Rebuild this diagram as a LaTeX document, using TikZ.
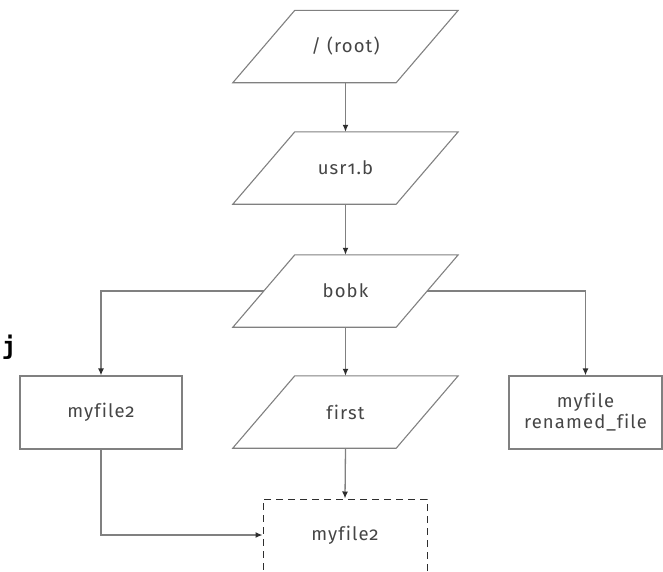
\documentclass[tikz,border=0pt]{standalone}
\usepackage{fontspec}
\setmainfont{Fira Sans}[Numbers=OldStyle, Ligatures=NoCommon]
\newfontfamily\markfont{DejaVu Sans Mono}
\usetikzlibrary{arrows.meta}
\definecolor{linegray}{HTML}{808080}
\definecolor{tipgray}{HTML}{2E2E2E}
\definecolor{textgray}{HTML}{454545}
\tikzset{
  x=1pt, y=-1pt,
  every node/.style={font=\fontsize{18.5}{21}\selectfont\addfontfeature{LetterSpace=6}, text=textgray, align=center},
  % invisible rectangle that carries the anchors of a parallelogram
  para/.style={rectangle, minimum width=225pt, minimum height=72pt, inner sep=0pt},
  parastroke/.style={draw=linegray, line width=1.1pt, line join=miter},
  filebox/.style={rectangle, minimum width=162pt, minimum height=73pt,
    inner sep=0pt, draw=linegray, line width=1.3pt},
  ghostbox/.style={rectangle, minimum width=164pt, minimum height=100pt,
    inner sep=0pt, draw=tipgray, line width=1pt, dash pattern=on 7pt off 5pt},
  link/.style={draw=linegray, line width=1.3pt, -{Latex[length=7pt,width=6pt,color=tipgray]}}
}
% outline of a right-leaning parallelogram over a para node
\newcommand\parashape[1]{%
  \draw[parastroke] ([xshift=62pt]#1.north west) -- (#1.north east)
    -- ([xshift=-62pt]#1.south east) -- (#1.south west) -- cycle;}
\begin{document}
\begin{tikzpicture}
  \useasboundingbox (0,0) rectangle (663,571);
  \clip (0,0) rectangle (663,571);

  % directory tree
  \node[para] (root) at (345.5,46.5) {/ (root)};
  \node[para] (usr)  at (345.5,168)  {usr1.b};
  \node[para] (bobk) at (345.5,291)  {bobk};
  \node[para] (first) at (345.5,412) {first};
  \parashape{root}
  \parashape{usr}
  \parashape{bobk}
  \parashape{first}

  % files
  \node[filebox] (mf2) at (101,412.5) {myfile2};
  \node[filebox, minimum width=153pt] (ren) at (585.5,412.5) {myfile\\renamed\_file};
  \node[ghostbox] (copy) at (345,549) {};
  \node at (345,535) (copylabel) {myfile2};

  % stray glyph at the left margin
  \node[font=\markfont\bfseries\fontsize{24}{24}\selectfont, text=black, inner sep=0pt] (jmark) at (9,347) {j};

  % connectors
  \draw[link] (root.south) -- (usr.north);
  \draw[link] (usr.south) -- (bobk.north);
  \draw[link] (bobk.south) -- (first.north);
  \draw[link] ([xshift=31pt]bobk.west) -| (mf2.north);
  \draw[link] ([xshift=-31pt]bobk.east) -| (ren.north);
  \draw[link] (first.south) -- (copy.north);
  \draw[link] (mf2.south) |- (copy.west |- copylabel);
\end{tikzpicture}
\end{document}
